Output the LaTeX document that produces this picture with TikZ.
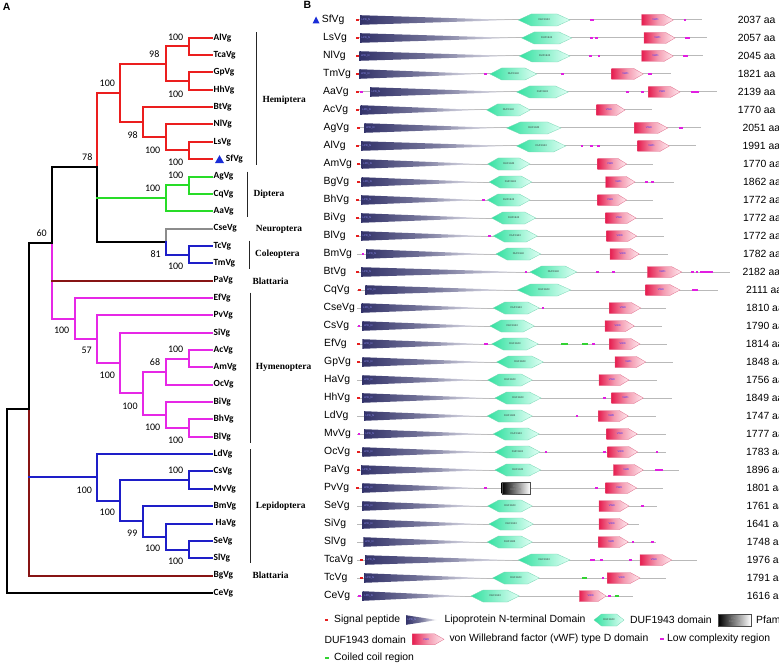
\documentclass[tikz,border=0pt]{standalone}
\usepackage{fontspec}
\setmainfont{Liberation Sans}
\newfontfamily\carl{Carlito}
\newfontfamily\tms{Liberation Serif}
\definecolor{tred}{RGB}{235,30,30}
\definecolor{tgreen}{RGB}{40,220,40}
\definecolor{tgray}{RGB}{140,140,140}
\definecolor{tblue}{RGB}{30,30,200}
\definecolor{tmag}{RGB}{230,40,230}
\definecolor{tbrown}{RGB}{135,20,20}
\definecolor{lpd}{RGB}{50,50,105}
\definecolor{lpdtxt}{RGB}{150,150,255}
\definecolor{dufL}{RGB}{50,225,160}
\definecolor{dufR}{RGB}{225,255,245}
\definecolor{dufE}{RGB}{120,215,180}
\definecolor{vwdL}{RGB}{230,30,80}
\definecolor{vwdR}{RGB}{255,235,240}
\definecolor{vwdE}{RGB}{225,110,140}
\definecolor{lcm}{RGB}{225,30,225}
\definecolor{spr}{RGB}{230,30,30}
\definecolor{ccg}{RGB}{50,210,50}
\definecolor{bbg}{RGB}{185,185,185}
\definecolor{trimark}{RGB}{25,45,215}
\tikzset{
  leaf/.style={font=\carl\bfseries\fontsize{9.4}{10}\selectfont, inner sep=1.5pt, anchor=west},
  bs/.style={font=\carl\fontsize{10}{11}\selectfont, inner sep=0pt},
  grp/.style={font=\tms\bfseries\fontsize{9.4}{10}\selectfont, inner sep=0pt, anchor=west},
  br/.style={line width=2pt, line cap=rect},
  bar/.style={line width=1pt, black!85},
  bname/.style={font=\fontsize{10.4}{12}\selectfont, inner sep=0pt, anchor=west},
  panel/.style={font=\bfseries\fontsize{10.5}{12}\selectfont, inner sep=0pt},
  tinylbl/.style={font=\fontsize{2.6}{3}\selectfont, inner sep=0pt},
  bbline/.style={bbg, line width=1pt},
}
\newcommand\vglpd[3]{%
  \shade[left color=lpd, right color=lpd!4, middle color=lpd!65] (#2,#1-4.8) -- (#3,#1) -- (#2,#1+4.8) -- cycle;
  \node[tinylbl, text=lpdtxt, anchor=west] at (#2+1.5,#1) {LPD\_N};
}
\newcommand\vgduf[3]{%
  \pgfmathsetmacro\vga{0.25*(#3-#2)}%
  \shadedraw[left color=dufL, right color=dufR, draw=dufE, line width=0.3pt] (#2,#1) -- (#2+\vga,#1-6) -- (#3-\vga,#1-6) -- (#3,#1) -- (#3-\vga,#1+6) -- (#2+\vga,#1+6) -- cycle;
  \node[tinylbl, text=black!80] at ({(#2+#3)/2},#1) {DUF1943};
}
\newcommand\vgvwd[3]{%
  \pgfmathsetmacro\vgb{0.3*(#3-#2)}%
  \shadedraw[left color=vwdL, right color=vwdR, middle color=vwdL!45!white, draw=vwdE, line width=0.3pt] (#2,#1-5.5) -- (#3-\vgb,#1-5.5) -- (#3,#1) -- (#3-\vgb,#1+5.5) -- (#2,#1+5.5) -- cycle;
  \node[tinylbl, text=blue!80] at ({(#2+#3)/2-2},#1) {VWD};
}
\newcommand\vgpfam[3]{%
  \shadedraw[left color=black, right color=white, draw=black!70, line width=0.4pt] (#2,#1-5.8) rectangle (#3,#1+5.8);
  \node[tinylbl, text=black!45, align=center] at ({(#2+#3)/2},#1) {Pfam\\DUF1943};
}
% y, tristart, duf0, duf1, vwd0, vwd1, end
\newcommand\vgrow[7]{%
  \draw[bbline] (357,#1) -- (#7,#1);
  \vglpd{#1}{#2}{#3-6}%
  \vgduf{#1}{#3}{#4}%
  \vgvwd{#1}{#5}{#6}%
}
\newcommand\vgsp[2]{\fill[spr] (#2-1.5,#1-1.1) rectangle (#2+1.5,#1+1.1);}
\newcommand\vglc[3]{\fill[lcm] (#2,#1-1.1) rectangle (#3,#1+1.1);}
\newcommand\vgcc[3]{\fill[ccg] (#2,#1-1.1) rectangle (#3,#1+1.1);}
\begin{document}
\begin{tikzpicture}[x=1pt,y=-1pt]
\fill[white] (0,0) rectangle (779,666);
\useasboundingbox (0,0) rectangle (779,666);
\node[panel] (pA) at (6.7,6.7) {A};
\node[panel] (pB) at (307.3,5) {B};
%% ---------------- tree leaves
\node[leaf] (lAl) at (212,37.7) {AlVg};
\node[leaf] (lTca) at (212,55.05) {TcaVg};
\node[leaf] (lGp) at (212,72.4) {GpVg};
\node[leaf] (lHh) at (212,89.75) {HhVg};
\node[leaf] (lBt) at (212,107.1) {BtVg};
\node[leaf] (lNl) at (212,124.45) {NlVg};
\node[leaf] (lLs) at (212,141.8) {LsVg};
\coordinate (lSf) at (212,159.15);
\fill[trimark] (215,163) -- (224,163) -- (219.5,155.2) -- cycle;
\node[leaf] (lSfT) at (224.2,159.15) {SfVg};
\node[leaf] (lAg) at (212,176.5) {AgVg};
\node[leaf] (lCq) at (212,193.85) {CqVg};
\node[leaf] (lAa) at (212,211.2) {AaVg};
\node[leaf] (lCse) at (212,228.55) {CseVg};
\node[leaf] (lTc) at (212,245.9) {TcVg};
\node[leaf] (lTm) at (212,263.25) {TmVg};
\node[leaf] (lPa) at (212,280.6) {PaVg};
\node[leaf] (lEf) at (212,297.95) {EfVg};
\node[leaf] (lPv) at (212,315.3) {PvVg};
\node[leaf] (lSi) at (212,332.65) {SiVg};
\node[leaf] (lAc) at (212,350) {AcVg};
\node[leaf] (lAm) at (212,367.35) {AmVg};
\node[leaf] (lOc) at (212,384.7) {OcVg};
\node[leaf] (lBi) at (212,402.05) {BiVg};
\node[leaf] (lBh) at (212,419.4) {BhVg};
\node[leaf] (lBl) at (212,436.75) {BlVg};
\node[leaf] (lLd) at (212,454.1) {LdVg};
\node[leaf] (lCs) at (212,471.45) {CsVg};
\node[leaf] (lMv) at (212,488.8) {MvVg};
\node[leaf] (lBm) at (212,506.15) {BmVg};
\node[leaf] (lHa) at (212,523.5) {\hspace{2pt}HaVg};
\node[leaf] (lSe) at (212,540.85) {SeVg};
\node[leaf] (lSl) at (212,558.2) {SlVg};
\node[leaf] (lBg) at (212,575.55) {BgVg};
\node[leaf] (lCe) at (212,592.9) {CeVg};
%% internal nodes
\coordinate (nAT) at (189,46.375);
\coordinate (nGH) at (189,81.075);
\coordinate (nATGH) at (165.7,63.725);
\coordinate (nLS) at (189,150.475);
\coordinate (nNLS) at (165.7,137.46);
\coordinate (nBNLS) at (143,122.28);
\coordinate (nHem) at (120.3,93.0);
\coordinate (nAC) at (189,185.175);
\coordinate (nDip) at (165.7,198.19);
\coordinate (nTT) at (189,254.575);
\coordinate (nCC) at (165.7,241.56);
\coordinate (nHDC) at (97.3,167.28);
\coordinate (nAA) at (189,358.675);
\coordinate (nAAO) at (165.7,371.69);
\coordinate (nBB) at (189,428.075);
\coordinate (nBBB) at (165.7,415.06);
\coordinate (nH4) at (143,393.38);
\coordinate (nSi) at (120.3,363.01);
\coordinate (nPv) at (97.3,339.16);
\coordinate (nHym) at (75.3,318.55);
\coordinate (nMid) at (51.7,242.9);
\coordinate (nSS) at (189,549.525);
\coordinate (nHSS) at (165.7,536.51);
\coordinate (nBH) at (143,521.33);
\coordinate (nCM) at (189,480.125);
\coordinate (nL2) at (120.3,500.73);
\coordinate (nLep) at (97.3,477.41);
\coordinate (nUp) at (29.3,409.2);
\coordinate (nRoot) at (6.7,409.2);
%% edges
\begin{scope}[br]
\draw[tred] (nAT) |- (lAl.west) (nAT) |- (lTca.west) (nGH) |- (lGp.west) (nGH) |- (lHh.west)
  (nATGH) |- (nAT) (nATGH) |- (nGH) (nLS) |- (lLs.west) (nLS) |- (lSf)
  (nNLS) |- (lNl.west) (nNLS) |- (nLS) (nBNLS) |- (lBt.west) (nBNLS) |- (nNLS)
  (nHem) |- (nATGH) (nHem) |- (nBNLS) (nHDC) |- (nHem);
\draw[black] (nHDC) -- (nHDC |- nDip) (nHDC) |- (nCC);
\draw[tgreen] (nHDC |- nDip) -- (nDip) (nAC) |- (lAg.west) (nAC) |- (lCq.west) (nDip) |- (nAC) (nDip) |- (lAa.west);
\draw[tgray] (nCC) |- (lCse.west);
\draw[tblue] (nCC) |- (nTT) (nTT) |- (lTc.west) (nTT) |- (lTm.west);
\draw[black] (nMid) |- (nHDC);
\draw[tmag] (nMid) -- (nMid |- lPa.west) (nMid) |- (nHym) (nHym) |- (lEf.west) (nHym) |- (nPv)
  (nPv) |- (lPv.west) (nPv) |- (nSi) (nSi) |- (lSi.west) (nSi) |- (nH4)
  (nH4) |- (nAAO) (nH4) |- (nBBB) (nAAO) |- (nAA) (nAAO) |- (lOc.west)
  (nAA) |- (lAc.west) (nAA) |- (lAm.west) (nBBB) |- (lBi.west) (nBBB) |- (nBB)
  (nBB) |- (lBh.west) (nBB) |- (lBl.west);
\draw[tbrown] (nMid |- lPa.west) -- (lPa.west);
\draw[black] (nUp) |- (nMid);
\draw[tbrown] (nUp) -- (nUp |- nLep) (nUp) |- (lBg.west);
\draw[tblue] (nUp |- nLep) -- (nLep) (nLep) |- (lLd.west) (nLep) |- (nL2) (nL2) |- (nCM) (nL2) |- (nBH)
  (nCM) |- (lCs.west) (nCM) |- (lMv.west) (nBH) |- (lBm.west) (nBH) |- (nHSS)
  (nHSS) |- (lHa.west) (nHSS) |- (nSS) (nSS) |- (lSe.west) (nSS) |- (lSl.west);
\draw[black] (nRoot) |- (nUp) (nRoot) |- (lCe.west);
\end{scope}
%% bootstrap values
\node[bs] (b1) at (175.7,37.3) {100};
\node[bs] (b2) at (154.3,54.3) {98};
\node[bs] (b3) at (175.7,94) {100};
\node[bs] (b4) at (107.3,83.3) {100};
\node[bs] (b5) at (132.7,135) {98};
\node[bs] (b6) at (152.7,150) {100};
\node[bs] (b7) at (175.7,162.7) {100};
\node[bs] (b8) at (87.3,157.3) {78};
\node[bs] (b9) at (175.7,175.7) {100};
\node[bs] (b10) at (152.7,188.3) {100};
\node[bs] (b11) at (155.7,254) {81};
\node[bs] (b12) at (175.7,266.7) {100};
\node[bs] (b13) at (41.7,233.3) {60};
\node[bs] (b14) at (61.7,330.7) {100};
\node[bs] (b15) at (86.7,350.7) {57};
\node[bs] (b16) at (107.3,375) {100};
\node[bs] (b17) at (175.7,349.3) {100};
\node[bs] (b18) at (155,361.7) {68};
\node[bs] (b19) at (130,406) {100};
\node[bs] (b20) at (152.7,427.3) {100};
\node[bs] (b21) at (175.7,440) {100};
\node[bs] (b22) at (84.3,490) {100};
\node[bs] (b23) at (175.7,470) {100};
\node[bs] (b24) at (107.3,512.3) {100};
\node[bs] (b25) at (132.3,533.3) {99};
\node[bs] (b26) at (152.7,548.3) {100};
\node[bs] (b27) at (175.7,561.7) {100};
%% groups
\draw[bar] (256.7,32.3) -- (256.7,165);
\draw[bar] (247.3,171.7) -- (247.3,217.3);
\draw[bar] (249.3,240.7) -- (249.3,269.3);
\draw[bar] (250.7,292.7) -- (250.7,442.7);
\draw[bar] (250,449.3) -- (250,563.3);
\node[grp] (g1) at (262.3,100) {Hemiptera};
\node[grp] (g2) at (253.3,194.3) {Diptera};
\node[grp] (g3) at (255.7,229.3) {Neuroptera};
\node[grp] (g4) at (255,254.7) {Coleoptera};
\node[grp] (g5) at (252.3,281) {Blattaria};
\node[grp] (g6) at (255.7,367.7) {Hymenoptera};
\node[grp] (g7) at (255.7,506.7) {Lepidoptera};
\node[grp] (g8) at (252.3,575.7) {Blattaria};
%% ---------------- panel B
\fill[trimark] (312.5,23.5) -- (319.5,23.5) -- (316,16.5) -- cycle;
\node[bname] (r0) at (321.7,20) {SfVg};
\node[bname] (r1) at (323,38) {LsVg};
\node[bname] (r2) at (323,56) {NlVg};
\node[bname] (r3) at (323,74) {TmVg};
\node[bname] (r4) at (323,92) {AaVg};
\node[bname] (r5) at (323,110) {AcVg};
\node[bname] (r6) at (323.5,128) {AgVg};
\node[bname] (r7) at (323.5,146) {AlVg};
\node[bname] (r8) at (323.5,164) {AmVg};
\node[bname] (r9) at (323.5,182) {BgVg};
\node[bname] (r10) at (323.5,200) {BhVg};
\node[bname] (r11) at (323.5,218) {BiVg};
\node[bname] (r12) at (323.5,236) {BlVg};
\node[bname] (r13) at (323.5,254) {BmVg};
\node[bname] (r14) at (323.5,272) {BtVg};
\node[bname] (r15) at (323.5,290) {CqVg};
\node[bname] (r16) at (323.5,308) {CseVg};
\node[bname] (r17) at (323.5,326) {CsVg};
\node[bname] (r18) at (324,344) {EfVg};
\node[bname] (r19) at (324,362) {GpVg};
\node[bname] (r20) at (324,380) {HaVg};
\node[bname] (r21) at (324,398) {HhVg};
\node[bname] (r22) at (324,416) {LdVg};
\node[bname] (r23) at (324,434) {MvVg};
\node[bname] (r24) at (324,452) {OcVg};
\node[bname] (r25) at (324,470) {PaVg};
\node[bname] (r26) at (324,488) {PvVg};
\node[bname] (r27) at (324,506) {SeVg};
\node[bname] (r28) at (324,524) {SiVg};
\node[bname] (r29) at (324,542) {SlVg};
\node[bname] (r30) at (324,560) {TcaVg};
\node[bname] (r31) at (324,578) {TcVg};
\node[bname] (r32) at (324,596) {CeVg};
% lengths
\node[bname] (a0) at (737.7,20) {2037 aa};
\node[bname] (a1) at (737.7,38) {2057 aa};
\node[bname] (a2) at (737.7,56) {2045 aa};
\node[bname] (a3) at (737.7,74) {1821 aa};
\node[bname] (a4) at (737.7,92) {2139 aa};
\node[bname] (a5) at (737.7,110) {1770 aa};
\node[bname] (a6) at (742.3,128) {2051 aa};
\node[bname] (a7) at (742.3,146) {1991 aa};
\node[bname] (a8) at (743,164) {1770 aa};
\node[bname] (a9) at (743,182) {1862 aa};
\node[bname] (a10) at (743,200) {1772 aa};
\node[bname] (a11) at (743,218) {1772 aa};
\node[bname] (a12) at (743,236) {1772 aa};
\node[bname] (a13) at (743,254) {1782 aa};
\node[bname] (a14) at (742.3,272) {2182 aa};
\node[bname] (a15) at (746,290) {2111 aa};
\node[bname] (a16) at (746,308) {1810 aa};
\node[bname] (a17) at (746,326) {1790 aa};
\node[bname] (a18) at (745.7,344) {1814 aa};
\node[bname] (a19) at (746,362) {1848 aa};
\node[bname] (a20) at (746,380) {1756 aa};
\node[bname] (a21) at (745.7,398) {1849 aa};
\node[bname] (a22) at (746,416) {1747 aa};
\node[bname] (a23) at (746,434) {1777 aa};
\node[bname] (a24) at (746,452) {1783 aa};
\node[bname] (a25) at (746,470) {1896 aa};
\node[bname] (a26) at (746.3,488) {1801 aa};
\node[bname] (a27) at (746.3,506) {1761 aa};
\node[bname] (a28) at (746.3,524) {1641 aa};
\node[bname] (a29) at (746.7,542) {1748 aa};
\node[bname] (a30) at (746.7,560) {1976 aa};
\node[bname] (a31) at (746.7,578) {1791 aa};
\node[bname] (a32) at (746.7,596) {1616 aa};
% domain rows
\vgrow{20}{360}{518.3}{570}{641.7}{673.3}{702.3}\vgsp{20}{357.3}\vglc{20}{589.5}{593.5}\vglc{20}{683.5}{686}
\vgrow{38}{360}{521.7}{571.7}{644}{675}{706.7}\vgsp{38}{357.3}\vglc{38}{589.5}{593}\vglc{38}{595}{598}\vglc{38}{685}{690}
\vgrow{56}{359.3}{519.3}{570}{641.7}{673.3}{702.7}\vgsp{56}{357.3}\vglc{56}{588.7}{592}\vglc{56}{597.5}{600}\vglc{56}{683.3}{687.7}
\vgrow{74}{359.3}{490}{536.7}{611.7}{643.3}{671}\vgsp{74}{357.3}\vglc{74}{484}{486.5}\vglc{74}{560.5}{563.5}\vglc{74}{647.7}{651.7}
\vgrow{92}{370}{516.7}{568.3}{648.3}{680}{716.7}\vgsp{92}{357.3}\vglc{92}{360}{363.3}\vglc{92}{625.5}{628.5}\vglc{92}{640.5}{643.5}\vglc{92}{690.7}{699.3}
\vgrow{110}{360.7}{486.7}{530}{596.7}{625}{651.7}\vgsp{110}{357.3}
\vgrow{128}{364.3}{506.7}{561}{634.3}{667.7}{701}\vgsp{128}{358}\vglc{128}{679}{683.3}
\vgrow{146}{361}{516.7}{565.7}{637.7}{669.3}{696}\vgsp{146}{357.3}\vglc{146}{580.5}{583}\vglc{146}{589.5}{592.5}\vglc{146}{597}{599.5}
\vgrow{164}{361.7}{487.7}{530}{597.7}{626.7}{652.7}\vgsp{164}{358.3}
\vgrow{182}{361.7}{489.3}{531.7}{605.7}{635}{674}\vgsp{182}{358.3}\vglc{182}{645}{648}\vglc{182}{650.5}{653.5}
\vgrow{200}{361}{487.3}{530}{597.7}{626.7}{652.7}\vgsp{200}{357.3}\vglc{200}{482}{484.5}
\vgrow{218}{361}{491.7}{535.7}{605.7}{636}{663.3}\vgsp{218}{357.3}
\vgrow{236}{361}{493.3}{537.3}{606.7}{636.7}{664.3}\vgsp{236}{357.3}\vglc{236}{488}{490.5}
\vgrow{254}{366}{496}{540.7}{610}{639.3}{668.3}\vglc{254}{361.7}{364}
\vgrow{272}{361}{530}{576.7}{647.3}{681.7}{730}\vgsp{272}{357.3}\vglc{272}{524.5}{527}\vglc{272}{595.5}{599}\vglc{272}{611.5}{614.5}\vglc{272}{691}{693.5}\vglc{272}{695.5}{697.5}\vglc{272}{700}{713.3}
\vgrow{290}{365.3}{517.3}{570.7}{645.7}{680}{717.7}\vgsp{290}{359}\vglc{290}{691.7}{697.7}
\vgrow{308}{361.7}{493.3}{539.3}{609.3}{640.7}{666}\vglc{308}{541.5}{544}
\vgrow{326}{362.3}{490}{534.3}{605}{634.3}{661.7}\vglc{326}{357.5}{359.5}
\vgrow{344}{362.3}{491.7}{538.3}{609.3}{640}{666.7}\vgsp{344}{358.3}\vglc{344}{484.3}{488.3}\vglc{344}{592}{594.5}\vgcc{344}{561}{567.7}\vgcc{344}{581.7}{588.3}
\vgrow{362}{362.3}{496.7}{543.3}{615}{645.7}{672.7}\vgsp{362}{358.3}
\vgrow{380}{362.3}{487.7}{532.3}{599}{629}{656.7}
\vgrow{398}{362.3}{495}{541}{611.7}{643.3}{671.7}\vgsp{398}{358.3}\vglc{398}{603}{605.5}
\vgrow{416}{364}{487.3}{532.3}{598.3}{628.3}{656}\vglc{416}{575.5}{578}
\vgrow{434}{364}{493.3}{539.3}{606.7}{637.3}{665.7}\vglc{434}{358.3}{360.3}
\vgrow{452}{362.3}{495}{540}{607.7}{637.7}{665.7}\vgsp{452}{358.3}\vglc{452}{544.5}{547}\vglc{452}{603}{605.5}\vglc{452}{655.5}{658}
\vgrow{470}{361}{495}{540.7}{613.3}{643.3}{679.3}\vgsp{470}{358.3}\vglc{470}{655}{662.7}
% PvVg with Pfam box
\draw[bbline] (357,488) -- (663.3,488);
\vglpd{488}{362.3}{480}\vgpfam{488}{501.7}{530}\vgvwd{488}{605.7}{636.7}
\vgsp{488}{357.3}\vglc{488}{484}{486.5}\vglc{488}{595}{597.5}
\vgrow{506}{362.3}{487.7}{532.3}{599}{629}{656.7}\vglc{506}{641}{643.5}
\vgrow{524}{362.3}{489}{533.3}{599}{628.3}{639.3}
\vgrow{542}{363.3}{487.3}{532.3}{598.3}{628.3}{656}\vglc{542}{631.5}{634}\vglc{542}{651}{653.5}
\vgrow{560}{365}{518.3}{570}{640}{671.7}{697.3}\vgsp{560}{361.7}\vglc{560}{590}{595}\vglc{560}{600}{602.5}\vglc{560}{629}{631.5}
\vgrow{578}{364}{492.7}{539.3}{607.3}{640}{665.7}\vgsp{578}{361}\vgcc{578}{581.7}{587.3}\vglc{578}{601.5}{604}
\vgrow{596}{362.7}{471}{519.3}{579.3}{606}{633.3}\vglc{596}{358.3}{360.7}\vglc{596}{608}{610.5}\vgcc{596}{615}{619.3}
%% legend
\vgsp{620}{326.5}
\node[bname] (t1) at (334,620) {Signal peptide};
\vglpd{620}{406}{437}
\node[bname] (t2) at (444.3,620) {Lipoprotein N-terminal Domain};
\vgduf{620}{594}{624}
\node[bname] (t3) at (630,620) {DUF1943 domain};
\vgpfam{620}{718.3}{750.7}
\node[bname] (t4) at (756,620) {Pfam};
\node[bname] (t5) at (324.3,639.3) {DUF1943 domain};
\vgvwd{639.3}{412.3}{444}
\node[bname] (t6) at (449.3,639.3) {von Willebrand factor (vWF) type D domain};
\vglc{639.3}{660}{664}
\node[bname] (t7) at (667,639.3) {Low complexity region};
\vgcc{658.3}{324.5}{328.5}
\node[bname] (t8) at (334,658.3) {Coiled coil region};
\end{tikzpicture}
\end{document}
